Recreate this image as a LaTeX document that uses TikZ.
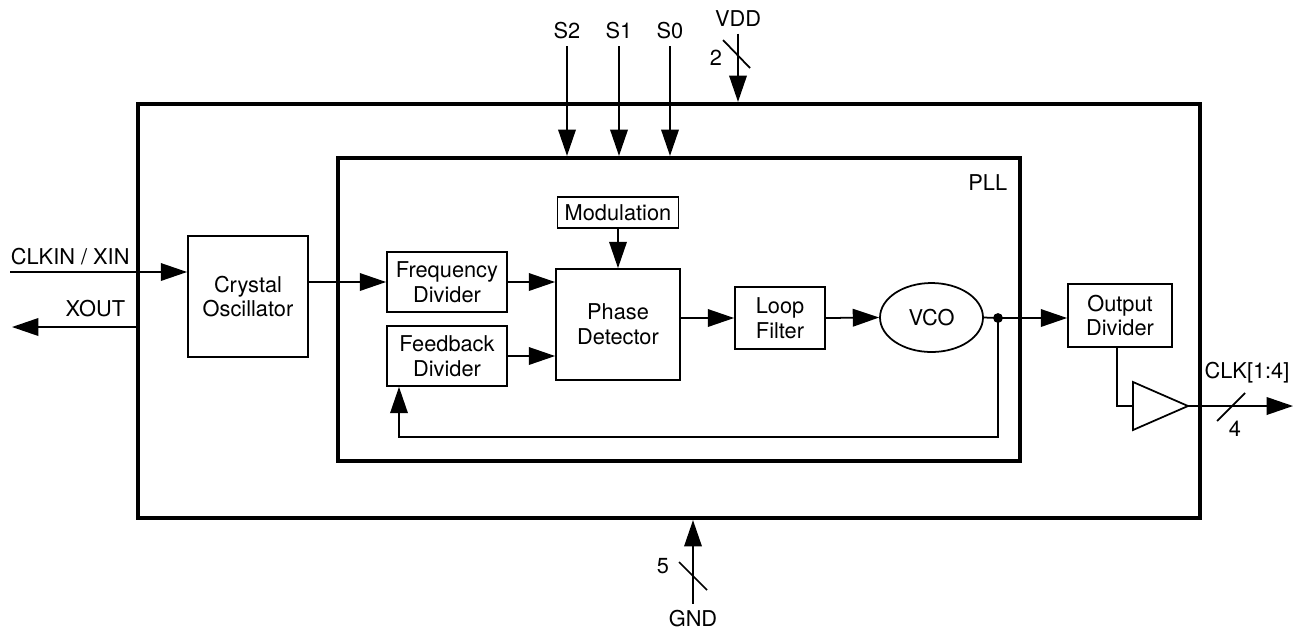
\documentclass[tikz,border=0pt]{standalone}
\usepackage{fontspec}
\setmainfont{TeX Gyre Heros}
\usetikzlibrary{positioning,arrows.meta,calc,shapes.geometric}

\begin{document}
\begin{tikzpicture}[x=0.02cm, y=-0.02cm,
  font=\fontsize{12.4}{14}\selectfont, line width=1pt,
  sz/.style 2 args={minimum width=#1*0.02cm, minimum height=#2*0.02cm},
  blk/.style={draw, rectangle, align=center, inner sep=1pt},
  frame/.style={draw, rectangle, line width=2.4pt},
  sig/.style={-{Triangle[length=15pt,width=10pt]}}]
\useasboundingbox (0,0) rectangle (1297,630);
% frames: chip and PLL
\node[frame, sz={1062}{414}] (chip) at (669,311) {};
\node[frame, sz={682}{303}] (pll) at (679,309.5) {};
\node[anchor=east, inner sep=0pt] (plllbl) at (1008,183) {PLL};
% blocks
\node[blk, sz={120}{121}] (xtal) at (248,296.5) {Crystal\\Oscillator};
\node[blk, sz={120}{60}] (fdiv) at (447,282) {Frequency\\Divider};
\node[blk, sz={120}{60}] (fbdiv) at (447,356) {Feedback\\Divider};
\node[blk, sz={124}{111}] (pd) at (618,324.5) {Phase\\Detector};
\node[blk, sz={121}{31}] (mod) at (618,212.5) {Modulation};
\node[blk, sz={90}{62}] (lf) at (780,318) {Loop\\Filter};
\node[draw, ellipse, sz={103}{69}, inner sep=0pt] (vco) at (931.5,317.5) {VCO};
\node[blk, sz={104}{63}] (odiv) at (1120,315.5) {Output\\Divider};
% buffer
\coordinate (bufin) at (1133,406);
\coordinate (bufout) at (1188,406);
\draw (1133,382) -- (bufout) -- (1133,430) -- cycle;
% pins
\node (s2) at (567,31) {S2};
\node (s1) at (619,31) {S1};
\node (s0) at (670,31) {S0};
\foreach \p in {s2,s1,s0}
  \draw[sig] (\p.south) -- (\p.south |- pll.north);
\node (vdd) at (738,19) {VDD};
\draw[sig] (vdd.south) -- (vdd.south |- chip.north);
\draw (723,40) -- (750,68);
\node (vddn) at (716,58) {2};
\node (gnd) at (693,619) {GND};
\draw[sig] (gnd.north) -- (gnd.north |- chip.south);
\draw (679,562) -- (707,590);
\node (gndn) at (663,566) {5};
\coordinate (clkin) at (10,272);
\node[anchor=base west, inner sep=0pt] (clkinlbl) at (10,264) {CLKIN / XIN};
\draw[sig] (clkin) -- (clkin -| xtal.west);
\coordinate (xout) at (12,327);
\node[anchor=base east, inner sep=0pt] (xoutlbl) at (126,316) {XOUT};
\draw[sig] (chip.west |- xout) -- (xout);
% signal path
\draw[sig] (xtal.east |- fdiv) -- (fdiv.west);
\draw[sig] (fdiv.east) -- (fdiv.east -| pd.west);
\draw[sig] (fbdiv.east) -- (fbdiv.east -| pd.west);
\draw[sig] (mod.south) -- (pd.north);
\draw[sig] (pd.east |- lf) -- (lf.west);
\draw[sig] (lf.east) -- (vco.west);
\coordinate (tap) at (998,318);
\draw (vco.east) -- (tap);
\fill (tap) circle[radius=2.8pt];
\draw[sig] (tap) -- (tap -| odiv.west);
% feedback loop
\coordinate (fbret) at (399,437);
\draw[sig] (tap) |- (fbret) -- (fbret |- fbdiv.south);
% output
\draw ([xshift=-3*0.02cm]odiv.south) |- (bufin);
\coordinate (clkout) at (1293,406);
\draw[sig] (bufout) -- (clkout);
\draw (1217,421) -- (1245,393);
\node (clklbl) at (1247,373) {CLK[1:4]};
\node (clkn) at (1235,429) {4};
\end{tikzpicture}
\end{document}
